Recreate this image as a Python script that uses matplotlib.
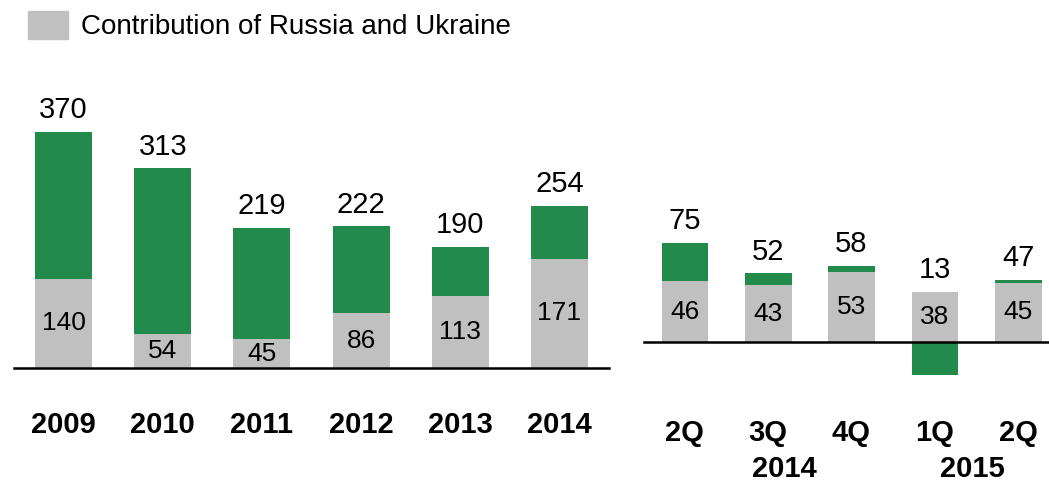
import matplotlib.pyplot as plt
import matplotlib.transforms as mtransforms
from matplotlib.patches import Patch
import numpy as np

plt.rcParams['font.family'] = ['Liberation Sans', 'DejaVu Sans']

years = ["2009", "2010", "2011", "2012", "2013", "2014"]
year_total = [370, 313, 219, 222, 190, 254]
year_ru_ua = [140, 54, 45, 86, 113, 171]

quarters = ["2Q", "3Q", "4Q", "1Q", "2Q"]
quarter_total = [75, 52, 58, 13, 47]
quarter_ru_ua = [46, 43, 53, 38, 45]
quarter_years = ["2014", "2015"]

green = "#228b4b"
grey = "#c0c0c0"

W, H = 1049, 483
fig = plt.figure(figsize=(W / 100, H / 100), dpi=100)

def px_axes(x0, x1, ytop, ybot):
    return fig.add_axes([x0 / W, (H - ybot) / H, (x1 - x0) / W, (ybot - ytop) / H])

def draw_bars(ax, totals, ru_ua, width):
    x = np.arange(len(totals))
    totals = np.array(totals)
    ru_ua = np.array(ru_ua)
    rest = totals - ru_ua
    ax.bar(x, ru_ua, width, color=grey, zorder=2)
    # the rest sits on top of the grey part, or below zero if negative
    bottom = np.where(rest >= 0, ru_ua, 0)
    ax.bar(x, rest, width, bottom=bottom, color=green, zorder=2)
    ax.axhline(0, color="black", lw=1.8, zorder=3, clip_on=False)
    for i in range(len(x)):
        top = max(totals[i], ru_ua[i])
        ax.annotate(str(totals[i]), (x[i], top), xytext=(0, 10), textcoords="offset points",
                    ha="center", va="baseline", fontsize=21)
        ax.text(x[i], ru_ua[i] / 2, str(ru_ua[i]), ha="center", va="center",
                fontsize=19, zorder=4)
    ax.axis("off")
    return x

# yearly panel
ax1 = px_axes(14, 609, 113, 368)
x1 = draw_bars(ax1, year_total, year_ru_ua, 0.575)
ax1.set_xlim(-0.5, 5.5)
ax1.set_ylim(0, 400)
tr1 = mtransforms.blended_transform_factory(ax1.transData, fig.transFigure)
for i, lab in enumerate(years):
    ax1.text(x1[i], (H - 433) / H, lab, transform=tr1, ha="center", va="baseline",
             fontsize=21, fontweight="bold")

# quarterly panel
ax2 = px_axes(644, 1049, 210, 395)
x2 = draw_bars(ax2, quarter_total, quarter_ru_ua, 0.56)
ax2.set_xlim(-0.49, 4.37)
ax2.set_ylim(-40, 100)
tr2 = mtransforms.blended_transform_factory(ax2.transData, fig.transFigure)
for i, lab in enumerate(quarters):
    ax2.text(x2[i], (H - 441) / H, lab, transform=tr2, ha="center", va="baseline",
             fontsize=21, fontweight="bold")
ax2.text(1.2, (H - 477) / H, quarter_years[0], transform=tr2, ha="center", va="baseline",
         fontsize=21, fontweight="bold")
ax2.text(3.45, (H - 477) / H, quarter_years[1], transform=tr2, ha="center", va="baseline",
         fontsize=21, fontweight="bold")

fig.legend(handles=[Patch(color=grey, label="Contribution of Russia and Ukraine")],
           loc="upper left", bbox_to_anchor=(17 / W, 1 - 0 / H), frameon=False,
           fontsize=20, handlelength=1.45, handleheight=1.15, handletextpad=0.45,
           borderaxespad=0)

fig.savefig("out.png", dpi=100)
